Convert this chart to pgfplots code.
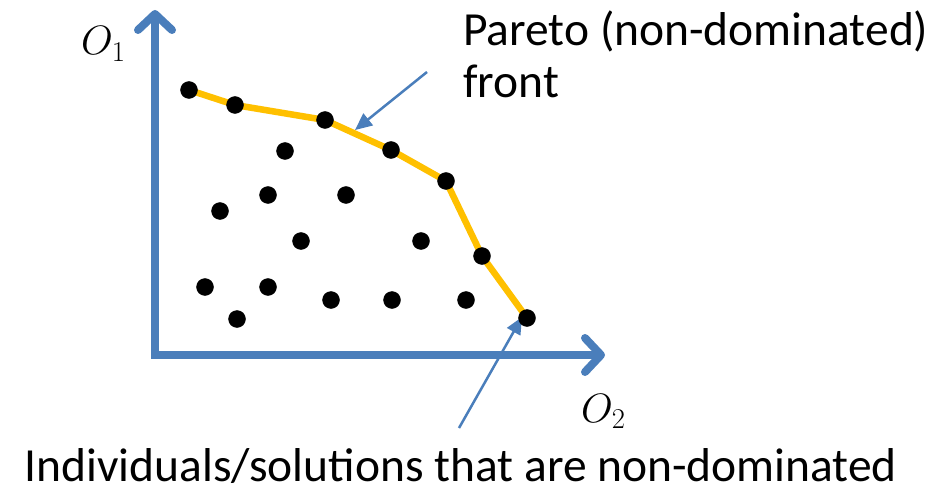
\RequirePackage{fix-cm}
\documentclass[border=0pt]{standalone}
\usepackage{fontspec}
\setmainfont{Carlito}
\usepackage{pgfplots}
\pgfplotsset{compat=1.18}
\usetikzlibrary{arrows.meta}
\definecolor{oblue}{RGB}{74,126,187}
\definecolor{oyellow}{RGB}{255,192,0}
\newcommand{\bigf}{\fontsize{47.5}{52}\selectfont}
\newcommand{\mathf}{\fontsize{41}{48}\selectfont}
\begin{document}
\begin{tikzpicture}
\begin{axis}[
  width=929pt, height=492pt, scale only axis,
  xmin=0, xmax=929, ymin=0, ymax=492, y dir=reverse,
  hide axis, clip=false
]
% axes
\addplot[oblue, line width=8pt, line join=miter,
  {Straight Barb[length=16pt,width=34pt,round]}-{Straight Barb[length=16pt,width=34pt,round]}]
  coordinates {(155,10) (155,355) (605,355)};
% all solutions
\addplot[only marks, mark=*, mark size=8.5pt, black] coordinates {
 (285,151) (220,211) (268,195) (346,195) (301,241) (421,241)
 (205,287) (268,287) (237,319) (331,300) (392,300) (466,300)
 (189,90) (235,105) (325,120) (391,150) (446,181) (482,256) (527,318)
};
% Pareto front
\addplot[oyellow, line width=6.5pt, line join=miter] coordinates {
 (189,90) (235,105) (325,120) (391,150) (446,181) (482,256) (527,318)
};
% annotation arrows
\addplot[oblue, line width=2.5pt, -{Triangle[length=17pt,width=15pt]}] coordinates {(427,72) (355,130)};
\addplot[oblue, line width=2.5pt, -{Triangle[length=17pt,width=15pt]}] coordinates {(459,428) (522,317)};
% texts
\node[anchor=base west, inner sep=0pt, font=\bigf] at (axis cs:463,46) {Pareto (non-dominated)};
\node[anchor=base west, inner sep=0pt, font=\bigf] at (axis cs:463,98) {front};
\node[anchor=base, inner sep=0pt, font=\bigf] at (axis cs:461,481) {Individuals/solutions that are non-dominated};
\node[anchor=base west, inner sep=0pt, font=\mathf] at (axis cs:81,55) {$O_1$};
\node[anchor=base west, inner sep=0pt, font=\mathf] at (axis cs:581,422) {$O_2$};
\end{axis}
\pgfresetboundingbox
\path (current axis.south west) rectangle (current axis.north east);
\end{tikzpicture}
\end{document}
